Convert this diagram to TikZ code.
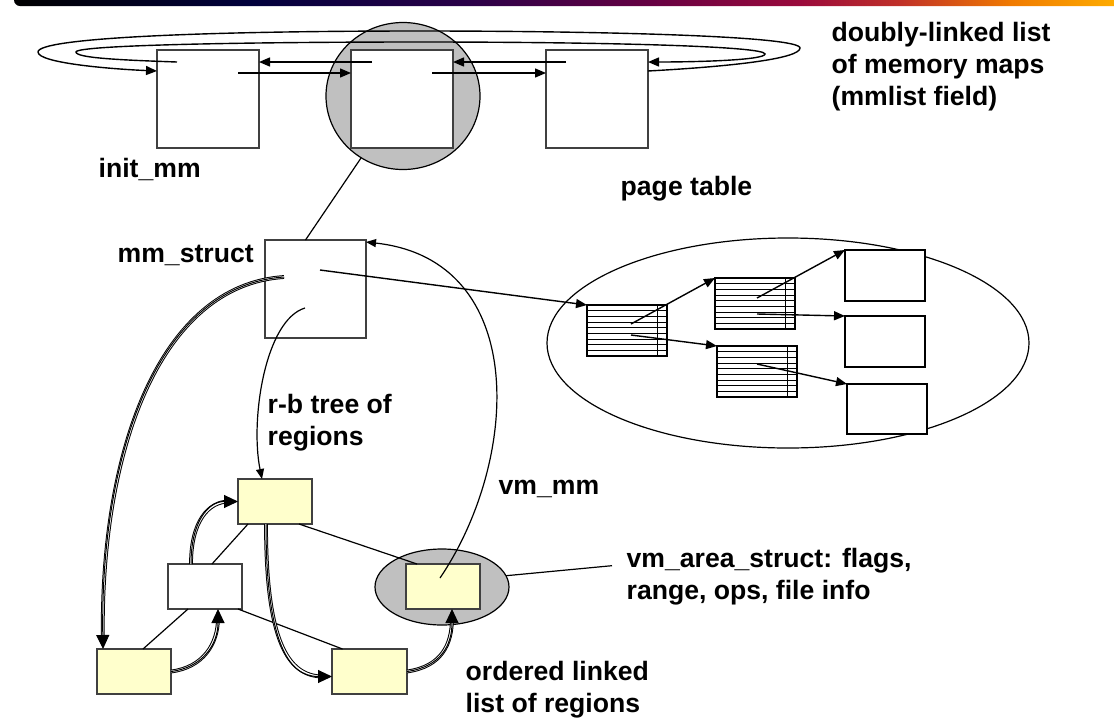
\documentclass[tikz,border=0pt]{standalone}
\usepackage{fontspec}
\setmainfont{Liberation Sans}
\usetikzlibrary{arrows.meta,calc,shapes.geometric}

\definecolor{bar0}{HTML}{000000}
\definecolor{bar1}{HTML}{00003C}
\definecolor{bar2}{HTML}{2A0048}
\definecolor{bar3}{HTML}{650042}
\definecolor{bar4}{HTML}{9A0A3C}
\definecolor{bar5}{HTML}{C03028}
\definecolor{bar6}{HTML}{F07A00}
\definecolor{bar7}{HTML}{FFB000}
\definecolor{cgray}{HTML}{C0C0C0}
\definecolor{cyell}{HTML}{FFFFCC}
\definecolor{cedge}{HTML}{404040}

\pgfdeclarehorizontalshading{titlebar}{100bp}{color(0bp)=(bar0); color(25bp)=(bar0);
  color(35.6bp)=(bar1); color(45.5bp)=(bar2); color(53.6bp)=(bar3); color(60.4bp)=(bar4);
  color(64.9bp)=(bar5); color(69.9bp)=(bar6); color(75bp)=(bar7); color(100bp)=(bar7)}

% double line with a solid tip
\newcommand\dblarrow[1]{\draw[dbl] #1; \draw[dtip] #1;}

\begin{document}
\begin{tikzpicture}[x=1pt, y=-1pt, >={Triangle[length=11pt,width=9pt]},
  line width=1.4pt,
  box/.style={draw=cedge, line width=1.6pt, fill=white, inner sep=0pt, outer sep=0pt},
  mbox/.style={box, minimum width=102pt, minimum height=98pt},
  rbox/.style={box, fill=cyell, minimum width=74pt, minimum height=45pt},
  tbl/.style={draw=black, line width=1.5pt, fill=white, minimum width=80pt, minimum height=51pt, inner sep=0pt, outer sep=0pt},
  page/.style={tbl, line width=1.4pt},
  oval/.style={ellipse, draw=black, line width=1.2pt, inner sep=0pt, outer sep=0pt},
  dbl/.style={double, double distance=1.8pt, line width=1pt, shorten >=9pt},
  dtip/.style={line width=1pt, -{Triangle[length=14pt,width=13pt]}},
  thin/.style={line width=1.2pt},
  lbl/.style={anchor=base west, inner sep=0pt, align=left, font=\fontsize{26.6}{32}\selectfont\bfseries}]

\useasboundingbox (0,0) rectangle (1114,721);

% title bar
\shade[shading=titlebar, rounded corners=6pt] (14,-8) rectangle (1124,6);

% memory maps
\node[oval, fill=cgray, minimum width=154pt, minimum height=147pt] (mc) at (403,96) {};
\node[mbox] (m1) at (208,99) {};
\node[mbox] (m2) at (402,99) {};
\node[mbox] (m3) at (597,99) {};

\coordinate (n1) at (238,73);
\coordinate (n2) at (432,73);
\coordinate (b1) at (177,62);
\coordinate (b2) at (372,62);
\coordinate (b3) at (566,62);

\draw[->] (n1) -- ([yshift=26pt]m2.west);
\draw[->] (n2) -- ([yshift=26pt]m3.west);
\draw[->] (b2) -- ([yshift=37pt]m1.east);
\draw[->] (b3) -- ([yshift=37pt]m2.east);
\draw[->] ([yshift=28pt]m3.east) .. controls (740,66) and (800,58) .. (800,48)
  .. controls (800,36) and (600,31) .. (420,31) .. controls (200,31) and (38,38) .. (38,52)
  .. controls (38,63) and (110,69) .. ([yshift=28pt]m1.west);
\draw[->] (b1) .. controls (120,60) and (76,58) .. (76,52)
  .. controls (76,45) and (250,42) .. (420,42) .. controls (600,42) and (765,46) .. (765,54)
  .. controls (765,60) and (700,62) .. ([yshift=37pt]m3.east);

\node[lbl] (dl) at (831,105.5) {doubly-linked list\\of memory maps\\(mmlist field)};
\node[lbl] (im) at (98,177) {init\_mm};

% mm_struct
\node[mbox, minimum width=101pt] (ms) at (315.5,289) {};
\draw[thin] ([xshift=-10pt]ms.north) -- (mc);
\node[lbl] (mn) at (117,262) {mm\_struct};

\coordinate (s1) at (320,270);
\coordinate (s2) at (284,277);
\coordinate (s3) at (305,308);

% page table
\node[oval, minimum width=482pt, minimum height=210pt] (pt) at (788,343) {};
\node[lbl] (pg) at (620,195) {page table};
\node[tbl] (t1) at (627,330.5) {};
\node[tbl] (t2) at (755,303.5) {};
\node[tbl] (t3) at (757,371.5) {};
\foreach \t in {t1,t2,t3} {
  \foreach \i in {1,...,8}
    \draw[line width=1pt] ($(\t.north west)!\i/9!(\t.south west)$) -- ($(\t.north east)!\i/9!(\t.south east)$);
  \draw[line width=1pt] ([xshift=-10pt]\t.north east) -- ([xshift=-10pt]\t.south east);
}
\node[page] (p1) at (885,275.5) {};
\node[page] (p2) at (885,341.5) {};
\node[page, minimum height=50pt] (p3) at (887,409) {};

\coordinate (e1) at (631,324);
\coordinate (e2) at (631,335);
\coordinate (e3) at (757,298);
\coordinate (e4) at (757,314);
\coordinate (e5) at (757,364);

\draw[->] (s1) -- (t1.north west);
\draw[->] (e1) -- (t2.north west);
\draw[->] (e2) -- (t3.north west);
\draw[->] (e3) -- (p1.north west);
\draw[->] (e4) -- (p2.north west);
\draw[->] (e5) -- (p3.north west);

% regions
\node[rbox] (y1) at (275,501.5) {};
\node[rbox, fill=white] (w) at (205,586.5) {};
\node[rbox] (y2) at (134,671.5) {};
\node[rbox, minimum width=75pt] (y3) at (369.5,671.5) {};
\node[oval, fill=cgray, minimum width=134pt, minimum height=76pt] (ve) at (442,587) {};
\node[rbox] (y4) at (443,586.5) {};

\draw[thin] ([xshift=-27pt]y1.south) -- ([xshift=7pt]w.north);
\draw[thin] ([xshift=24pt]y1.south) -- ([xshift=-26pt]y4.north);
\draw[thin] ([xshift=-17pt]w.south) -- ([xshift=9pt]y2.north);
\draw[thin] ([xshift=33pt]w.south) -- ([xshift=-27pt]y3.north);

\dblarrow{(y2.east) .. controls +(32,-4) and +(0,35) .. ([xshift=13pt]w.south)}
\dblarrow{([xshift=-14pt]w.north) .. controls +(0,-42) and +(-30,0) .. (y1.west)}
\dblarrow{([xshift=-9pt]y1.south) .. controls +(0,115) and +(-45,0) .. ([yshift=-5pt]y3.west)}
\dblarrow{(y3.east) .. controls +(35,-5) and +(0,35) .. ([xshift=9pt]y4.south)}
\dblarrow{(s2) .. controls (160,285) and (100,450) .. ([xshift=-31pt]y2.north)}

\coordinate (v1) at (440,578);
\draw[thin, -{Triangle[length=10pt,width=8pt]}] (v1) .. controls (520,460) and (530,260) .. ([yshift=-2pt]ms.north east);
\draw[thin, -{Triangle[length=10pt,width=8pt]}] (s3) .. controls (265,320) and (250,420) .. ([xshift=-13pt]y1.north);

\node[lbl] (rb) at (267,445) {r-b tree of\\regions};
\node[lbl] (vm) at (498,494) {vm\_mm};
\node[lbl] (va) at (626,599) {vm\_area\_struct: flags,\\range, ops, file info};
\node[lbl] (ol) at (465,712) {ordered linked\\list of regions};
\draw[thin] (ve.10) -- ([shift={(-14pt,10.5pt)}]va.west);

\end{tikzpicture}
\end{document}
